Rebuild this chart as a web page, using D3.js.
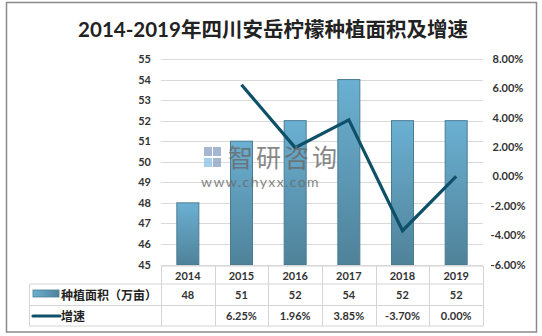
<!DOCTYPE html>
<html>
<head>
<meta charset="utf-8">
<script src="https://cdn.jsdelivr.net/npm/d3@7"></script>
<style>
  body { margin: 0; background: #fff; }
  svg text { font-family: Lato, "Noto Sans CJK SC", sans-serif; }
</style>
</head>
<body>
<div id="chart"></div>
<script>
var years = ["2014", "2015", "2016", "2017", "2018", "2019"];
var area = [48, 51, 52, 54, 52, 52];
var growth = [null, 6.25, 1.96, 3.85, -3.70, 0.00];
var growthLabels = ["", "6.25%", "1.96%", "3.85%", "-3.70%", "0.00%"];
var leftTicks = [45, 46, 47, 48, 49, 50, 51, 52, 53, 54, 55];
var rightTicks = [-6, -4, -2, 0, 2, 4, 6, 8];
var seriesNames = ["种植面积（万亩）", "增速"];
var title = "2014-2019年四川安岳柠檬种植面积及增速";

var W = 542, H = 336;
var plot = {left: 161, right: 483, top: 59, bottom: 264.5};

var svg = d3.select("#chart").append("svg")
    .attr("width", W)
    .attr("height", H);

var defs = svg.append("defs");
var grad = defs.append("linearGradient")
    .attr("id", "barGrad")
    .attr("x1", 0).attr("y1", 0).attr("x2", 0).attr("y2", 1);
grad.append("stop").attr("offset", "0%").attr("stop-color", "#6bb0d2");
grad.append("stop").attr("offset", "100%").attr("stop-color", "#4f8299");

var lgGrad = defs.append("linearGradient")
    .attr("id", "legGrad")
    .attr("x1", 0).attr("y1", 0).attr("x2", 1).attr("y2", 0);
lgGrad.append("stop").attr("offset", "0%").attr("stop-color", "#6bb0d2");
lgGrad.append("stop").attr("offset", "100%").attr("stop-color", "#4f8299");

// outer frame
svg.append("rect")
    .attr("x", 6.5).attr("y", 2.5)
    .attr("width", 530).attr("height", 329.5)
    .attr("fill", "#fff")
    .attr("stroke", "#8a8a8a")
    .attr("stroke-width", 1.5);

svg.append("text")
    .attr("x", 273).attr("y", 37)
    .attr("text-anchor", "middle")
    .attr("font-size", "20.5px")
    .attr("font-weight", "bold")
    .attr("fill", "#222")
    .text(title);

var x = d3.scaleBand()
    .domain(years)
    .range([plot.left, plot.right])
    .paddingInner(0.59)
    .paddingOuter(0.295);

var xCat = d3.scaleBand()
    .domain(years)
    .range([plot.left, plot.right]);

var yL = d3.scaleLinear().domain([45, 55]).range([plot.bottom, plot.top]);
var yR = d3.scaleLinear().domain([-6, 8]).range([plot.bottom, plot.top]);

// gridlines
svg.append("g").selectAll("line")
    .data(leftTicks)
    .enter().append("line")
    .attr("x1", plot.left).attr("x2", plot.right)
    .attr("y1", function(d) { return Math.round(yL(d)) + 0.5; })
    .attr("y2", function(d) { return Math.round(yL(d)) + 0.5; })
    .attr("stroke", "#d9d9d9")
    .attr("stroke-width", 1);

// left axis labels
svg.append("g").selectAll("text")
    .data(leftTicks)
    .enter().append("text")
    .attr("x", 151)
    .attr("y", function(d) { return yL(d) + 4; })
    .attr("text-anchor", "end")
    .attr("font-size", "11px")
    .attr("font-weight", "bold")
    .attr("fill", "#333")
    .text(function(d) { return d; });

// right axis labels
svg.append("g").selectAll("text")
    .data(rightTicks)
    .enter().append("text")
    .attr("x", 508)
    .attr("y", function(d) { return yR(d) + 4; })
    .attr("text-anchor", "middle")
    .attr("font-size", "11px")
    .attr("font-weight", "bold")
    .attr("fill", "#333")
    .text(function(d) { return d.toFixed(2) + "%"; });

// bars
svg.append("g").selectAll("rect")
    .data(area)
    .enter().append("rect")
    .attr("x", function(d, i) { return x(years[i]); })
    .attr("y", function(d) { return yL(d); })
    .attr("width", x.bandwidth())
    .attr("height", function(d) { return plot.bottom - yL(d); })
    .attr("fill", "url(#barGrad)")
    .attr("stroke", "#4a7d94")
    .attr("stroke-width", 1);

// growth line
var line = d3.line()
    .defined(function(d) { return d != null; })
    .x(function(d, i) { return xCat(years[i]) + xCat.bandwidth() / 2; })
    .y(function(d) { return yR(d); });

svg.append("path")
    .datum(growth)
    .attr("d", line)
    .attr("fill", "none")
    .attr("stroke", "#0e5068")
    .attr("stroke-width", 3.2)
    .attr("stroke-linejoin", "miter");

// watermark
var wm = svg.append("g").attr("opacity", 0.8);
wm.append("rect").attr("x", 204).attr("y", 147).attr("width", 8).attr("height", 9).attr("fill", "#8fa5c8");
wm.append("rect").attr("x", 213).attr("y", 147).attr("width", 8).attr("height", 9).attr("fill", "#8fa5c8");
wm.append("rect").attr("x", 204).attr("y", 158).attr("width", 8).attr("height", 9).attr("fill", "#8fc4e6");
wm.append("rect").attr("x", 213).attr("y", 158).attr("width", 8).attr("height", 9).attr("fill", "#8fa5c8");
wm.append("text")
    .attr("x", 228).attr("y", 167)
    .attr("font-size", "25px")
    .attr("fill", "#6a6a6a")
    .attr("font-family", "'Noto Sans CJK SC'")
    .attr("letter-spacing", "3px")
    .text("智研咨询");
wm.append("text")
    .attr("x", 201).attr("y", 187)
    .attr("font-size", "14px")
    .attr("fill", "#6a6a6a")
    .attr("font-family", "'DejaVu Sans'")
    .attr("letter-spacing", "1.4px")
    .text("www.chyxx.com");

// data table
var rowY = [266, 284, 305.5, 326];
var colX = years.map(function(d) { return xCat(d); }).concat([plot.right]);
var tbl = svg.append("g").attr("stroke", "#d4d4d4").attr("stroke-width", 1);

// horizontal lines
tbl.append("line").attr("x1", plot.left).attr("x2", plot.right).attr("y1", rowY[0]).attr("y2", rowY[0]);
[1, 2, 3].forEach(function(r) {
    tbl.append("line").attr("x1", 29.5).attr("x2", plot.right).attr("y1", rowY[r]).attr("y2", rowY[r]);
});
// vertical lines
colX.forEach(function(cx) {
    tbl.append("line").attr("x1", Math.round(cx) + 0.5).attr("x2", Math.round(cx) + 0.5)
        .attr("y1", rowY[0]).attr("y2", rowY[3]);
});
tbl.append("line").attr("x1", 29.5).attr("x2", 29.5).attr("y1", rowY[1]).attr("y2", rowY[3]);

// year labels
svg.append("g").selectAll("text")
    .data(years)
    .enter().append("text")
    .attr("x", function(d) { return xCat(d) + xCat.bandwidth() / 2; })
    .attr("y", 279.5)
    .attr("text-anchor", "middle")
    .attr("font-size", "11px")
    .attr("font-weight", "bold")
    .attr("fill", "#333")
    .text(function(d) { return d; });

svg.append("g").selectAll("text")
    .data(area)
    .enter().append("text")
    .attr("x", function(d, i) { return xCat(years[i]) + xCat.bandwidth() / 2; })
    .attr("y", 299)
    .attr("text-anchor", "middle")
    .attr("font-size", "11px")
    .attr("font-weight", "bold")
    .attr("fill", "#333")
    .text(function(d) { return d; });

svg.append("g").selectAll("text")
    .data(growthLabels)
    .enter().append("text")
    .attr("x", function(d, i) { return xCat(years[i]) + xCat.bandwidth() / 2; })
    .attr("y", 320)
    .attr("text-anchor", "middle")
    .attr("font-size", "11px")
    .attr("font-weight", "bold")
    .attr("fill", "#333")
    .text(function(d) { return d; });

// legend keys in table
svg.append("rect")
    .attr("x", 33).attr("y", 290)
    .attr("width", 26).attr("height", 7)
    .attr("fill", "url(#legGrad)")
    .attr("stroke", "#4a7d94")
    .attr("stroke-width", 0.8);
svg.append("line")
    .attr("x1", 33).attr("x2", 60)
    .attr("y1", 316).attr("y2", 316)
    .attr("stroke", "#0e5068")
    .attr("stroke-width", 3.2)
    .attr("stroke-linecap", "round");

svg.append("text")
    .attr("x", 61).attr("y", 299.5)
    .attr("font-size", "12px")
    .attr("font-weight", "bold")
    .attr("fill", "#222")
    .text(seriesNames[0]);
svg.append("text")
    .attr("x", 61).attr("y", 321)
    .attr("font-size", "12px")
    .attr("font-weight", "bold")
    .attr("fill", "#222")
    .text(seriesNames[1]);
</script>
</body>
</html>
